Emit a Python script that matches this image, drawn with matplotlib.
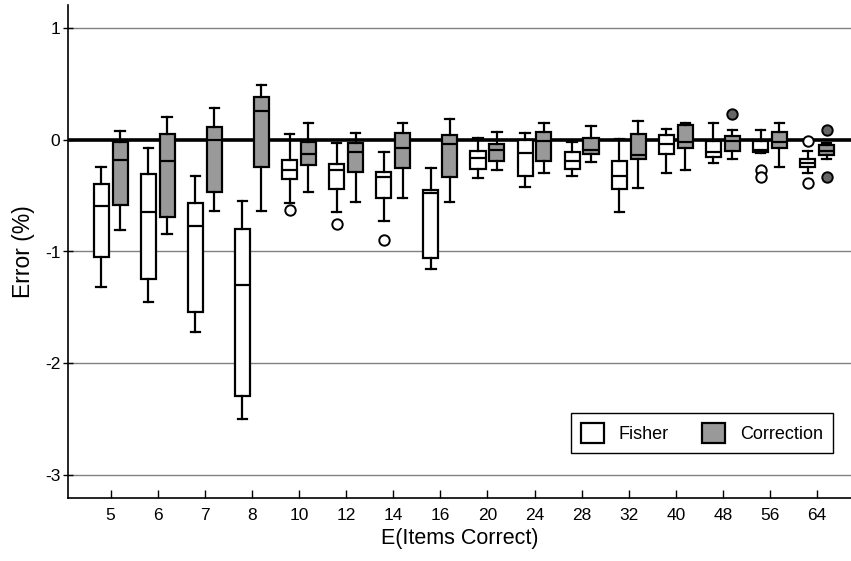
import numpy as np
import matplotlib
matplotlib.use('Agg')
import matplotlib.pyplot as plt
from matplotlib.patches import Patch

plt.rcParams['font.family'] = ['Liberation Sans', 'DejaVu Sans']

# E(Items Correct) categories
labels = ['5', '6', '7', '8', '10', '12', '14', '16', '20', '24', '28', '32', '40', '48', '56', '64']

# Fisher: whisker low, q1, median, q3, whisker high, outliers
fisher_lo = [-1.32, -1.45, -1.72, -2.50, -0.57, -0.65, -0.73, -1.16, -0.34, -0.42, -0.32, -0.65, -0.30, -0.21, -0.12, -0.30]
fisher_q1 = [-1.05, -1.25, -1.54, -2.29, -0.35, -0.44, -0.52, -1.06, -0.26, -0.32, -0.26, -0.44, -0.125, -0.15, -0.11, -0.245]
fisher_med = [-0.59, -0.65, -0.77, -1.30, -0.27, -0.27, -0.33, -0.48, -0.16, -0.12, -0.19, -0.32, -0.04, -0.11, -0.09, -0.21]
fisher_q3 = [-0.40, -0.31, -0.57, -0.80, -0.18, -0.22, -0.29, -0.45, -0.10, 0.0, -0.11, -0.19, 0.04, -0.01, -0.01, -0.17]
fisher_hi = [-0.24, -0.07, -0.32, -0.55, 0.05, -0.03, -0.11, -0.25, 0.02, 0.06, -0.02, 0.01, 0.10, 0.15, 0.09, -0.10]
fisher_out = [[], [], [], [], [-0.63], [-0.75], [-0.90], [], [], [], [], [], [], [], [-0.27, -0.33], [-0.01, -0.39]]

# Correction
corr_lo = [-0.81, -0.84, -0.64, -0.64, -0.47, -0.56, -0.52, -0.56, -0.27, -0.30, -0.20, -0.43, -0.27, -0.17, -0.245, -0.17]
corr_q1 = [-0.58, -0.69, -0.47, -0.24, -0.23, -0.29, -0.25, -0.33, -0.19, -0.19, -0.13, -0.17, -0.07, -0.10, -0.07, -0.14]
corr_med = [-0.18, -0.19, 0.0, 0.26, -0.13, -0.11, -0.07, -0.04, -0.09, -0.01, -0.09, -0.14, -0.02, -0.01, -0.02, -0.10]
corr_q3 = [-0.02, 0.05, 0.11, 0.38, -0.02, -0.03, 0.06, 0.04, -0.04, 0.07, 0.02, 0.05, 0.13, 0.03, 0.07, -0.05]
corr_hi = [0.08, 0.20, 0.28, 0.49, 0.15, 0.06, 0.15, 0.19, 0.07, 0.15, 0.12, 0.17, 0.15, 0.09, 0.15, -0.03]
corr_out = [[], [], [], [], [], [], [], [], [], [], [], [], [], [0.23], [], [0.09, -0.33]]


def make_stats(lo, q1, med, q3, hi, out):
    return [dict(whislo=a, q1=b, med=c, q3=d, whishi=e, fliers=f)
            for a, b, c, d, e, f in zip(lo, q1, med, q3, hi, out)]


fig = plt.figure(figsize=(8.51, 5.61), dpi=100)
ax = fig.add_axes([68 / 851, 63 / 561, 1 - 68 / 851, 493 / 561])

x = np.arange(len(labels))
lw = 1.6

# grid lines and the zero line
for yv in [-3, -2, -1, 1]:
    ax.axhline(yv, color='#808080', linewidth=1.0, zorder=0)
ax.axhline(0, color='black', linewidth=2.6, zorder=1)


def draw(stats, pos, face, flier_face):
    ax.bxp(stats, positions=pos, widths=0.32, capwidths=0.2, patch_artist=True,
           manage_ticks=False, zorder=3,
           boxprops=dict(facecolor=face, edgecolor='black', linewidth=lw),
           medianprops=dict(color='black', linewidth=lw),
           whiskerprops=dict(color='black', linewidth=lw),
           capprops=dict(color='black', linewidth=lw),
           flierprops=dict(marker='o', markersize=7.5, markerfacecolor=flier_face,
                           markeredgecolor='black', markeredgewidth=1.4))


draw(make_stats(fisher_lo, fisher_q1, fisher_med, fisher_q3, fisher_hi, fisher_out), x - 0.2, 'white', 'white')
draw(make_stats(corr_lo, corr_q1, corr_med, corr_q3, corr_hi, corr_out), x + 0.2, '#999999', '#666666')

ax.set_xlim(-0.905, 15.72)
ax.set_ylim(-3.206, 1.206)
ax.set_xticks(x)
ax.set_xticklabels(labels)
ax.set_yticks([-3, -2, -1, 0, 1])
ax.set_yticklabels(['-3', '-2', '-1', '0', '1'])
ax.tick_params(axis='x', direction='in', length=6, width=1, labelsize=12.5, pad=7)
ax.tick_params(axis='y', direction='inout', length=7, width=1, labelsize=12.5, pad=2)

for s in ['top', 'right']:
    ax.spines[s].set_visible(False)
for s in ['left', 'bottom']:
    ax.spines[s].set_linewidth(1.2)

ax.set_xlabel('E(Items Correct)', fontsize=15.5, labelpad=4)
ax.set_ylabel('Error (%)', fontsize=16.5, labelpad=7)

handles = [Patch(facecolor='white', edgecolor='black', linewidth=1.6, label='Fisher'),
           Patch(facecolor='#999999', edgecolor='black', linewidth=1.6, label='Correction')]
leg = ax.legend(handles=handles, ncol=2, loc='lower right', bbox_to_anchor=(0.977, 0.091),
                borderaxespad=0, fontsize=13, fancybox=False, framealpha=1,
                handlelength=1.28, handleheight=1.28, columnspacing=1.8, handletextpad=0.85,
                borderpad=0.55)
leg.get_frame().set_edgecolor('black')
leg.get_frame().set_linewidth(1.0)

fig.savefig('out.png', dpi=100)
